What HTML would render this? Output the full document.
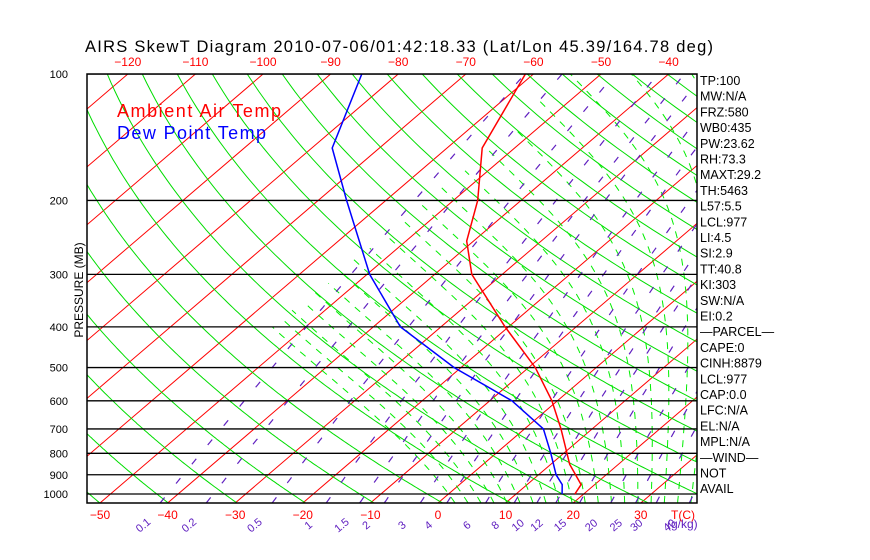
<!DOCTYPE html>
<html><head><meta charset="utf-8"><style>
body{margin:0;background:#fff;}
svg{display:block;font-family:"Liberation Sans",sans-serif;}
</style></head><body>
<svg id="chart" width="870" height="560" viewBox="0 0 870 560">
<defs><clipPath id="clip"><rect x="87" y="74" width="610" height="429"/></clipPath></defs>
<text x="85" y="52" font-size="16.5" fill="#000" textLength="628" lengthAdjust="spacing">AIRS SkewT Diagram 2010-07-06/01:42:18.33 (Lat/Lon 45.39/164.78 deg)</text>
<g id="grid" clip-path="url(#clip)"></g>
<g id="prof" clip-path="url(#clip)"></g>
<g id="labels"></g>
<text x="117" y="117" font-size="18" fill="#f00" textLength="164" lengthAdjust="spacing">Ambient Air Temp</text>
<text x="117" y="139" font-size="18" fill="#00f" textLength="149" lengthAdjust="spacing">Dew Point Temp</text>
<text transform="translate(83,290) rotate(-90)" text-anchor="middle" font-size="12" fill="#000">PRESSURE (MB)</text>
<rect x="87" y="74" width="610" height="429" fill="none" stroke="#000" stroke-width="1.5"/>
</svg>
<script>
const pressureLevels=[100,200,300,400,500,600,700,800,900,1000];
const bottomTempTicks=[-50,-40,-30,-20,-10,0,10,20,30];
const topTempTicks=[-120,-110,-100,-90,-80,-70,-60,-50,-40];
const mixRatios=[0.1,0.2,0.5,1,1.5,2,3,4,6,8,10,12,15,20,25,30,40];
const profP=[100,150,200,250,300,400,500,600,700,850,950,1000];
const tempC=[-61.2,-54.8,-46.4,-41,-34.5,-20.5,-9,-0.8,5.4,12.8,18,18.7];
const dewP=[100,150,200,300,400,500,600,700,800,900,950,1000];
const dewC=[-85.4,-77,-65.8,-49.6,-36,-21,-6.7,2.8,8.1,12.6,15.2,16.8];
const statLabels=["TP:100","MW:N/A","FRZ:580","WB0:435","PW:23.62","RH:73.3","MAXT:29.2","TH:5463","L57:5.5","LCL:977","LI:4.5","SI:2.9","TT:40.8","KI:303","SW:N/A","EI:0.2","\u2014PARCEL\u2014","CAPE:0","CINH:8879","LCL:977","CAP:0.0","LFC:N/A","EL:N/A","MPL:N/A","\u2014WIND\u2014","NOT","AVAIL"];

const NS="http://www.w3.org/2000/svg";
function yOf(p){return 494+182.4*Math.log(p/1000);}
function xOf(T,p){return 438+6.76*T+(503-yOf(p))*1.168;}
function mk(tag,attrs,parent){const e=document.createElementNS(NS,tag);for(const k in attrs)e.setAttribute(k,attrs[k]);parent.appendChild(e);return e;}
function fmt(v){return v<0?'\u2212'+(-v):String(v);}
const grid=document.getElementById('grid'),prof=document.getElementById('prof'),lab=document.getElementById('labels');
const pBot=1050,pTop=100;
function pts(fn){let s=[];for(let p=pBot;p>=pTop-1;p-=5){const T=fn(p);s.push(xOf(T,p).toFixed(1)+','+yOf(p).toFixed(1));}return s.join(' ');}
for(let T=-160;T<=50;T+=10){
 const l=mk('line',{x1:xOf(T,pBot),y1:yOf(pBot),x2:xOf(T,pTop),y2:yOf(pTop),stroke:'#f00','stroke-width':1},grid);
 
 
}
for(let th=190;th<=480;th+=10){
 const l=mk('polyline',{points:pts(p=>th*Math.pow(p/1000,0.286)-273.15),fill:'none',stroke:'#0d0','stroke-width':1},grid);
 
 
}
function es(T){return 6.112*Math.exp(17.67*T/(T+243.5));}
function step(T,p,dp){const Tc=T-273.15;const rs=0.622*es(Tc)/(p-es(Tc));const Lv=2.5e6,Rd=287,cp=1005;
  const dTdp=(Rd*T+Lv*rs)/(p*(cp+Lv*Lv*rs*0.622/(Rd*T*T)));return T+dTdp*dp;}
for(let tw=0;tw<=42;tw+=2){
 let T=tw+273.15,s=[];
 for(let p=1000;p<1050;p+=5){T=step(T,p,5);}
 for(let p=1050;p>=pTop;p-=5){if(T-273.15<-55)break;s.push(xOf(T-273.15,p).toFixed(1)+','+yOf(p).toFixed(1));T=step(T,p,-5);}
 const l=mk('polyline',{points:s.join(' '),fill:'none',stroke:'#0e0','stroke-width':1,'stroke-dasharray':'7,7'},grid);
 
 
}
function tdOfW(w,p){const e=w*p/(622+w);const a=Math.log(e/6.112);return 243.5*a/(17.67-a);}
mixRatios.forEach(w=>{
 const l=mk('polyline',{points:pts(p=>tdOfW(w,p)),fill:'none',stroke:'#6020c0','stroke-width':1.2,'stroke-dasharray':'7,18'},grid);
 
 
 const x=xOf(tdOfW(w,1000),1000)-22;
 const t=mk('text',{x:0,y:0,transform:`translate(${x.toFixed(1)},528) rotate(-40)`,'font-size':11,fill:'#6020c0','text-anchor':'middle'},lab);
 t.textContent=w;
 
 
});
{const t=mk('text',{x:667,y:528,'font-size':12,fill:'#6020c0'},lab);t.textContent='(g/kg)';
 
 }
pressureLevels.forEach(p=>{
 const y=yOf(p);
 const l=mk('line',{x1:87,x2:697,y1:y,y2:y,stroke:'#000','stroke-width':1.3},grid);
 
 
 const t=mk('text',{x:68,y:y+4,'font-size':11,'text-anchor':'end',fill:'#000'},lab);
 t.textContent=p;
 
 
});
bottomTempTicks.forEach(T=>{
 const t=mk('text',{x:xOf(T,1000)-10.5,y:519,'font-size':12,'text-anchor':'middle',fill:'#f00'},lab);
 t.textContent=fmt(T);
 
 
});
{const t=mk('text',{x:683,y:519,'font-size':12,'text-anchor':'middle',fill:'#f00'},lab);t.textContent='T(C)';
 
 }
topTempTicks.forEach(T=>{
 const t=mk('text',{x:438+6.76*T+501,y:66,'font-size':12,'text-anchor':'middle',fill:'#f00'},lab);
 t.textContent=fmt(T);
 
 
});
function prLine(P,V,color,name){
 const s=P.map((p,i)=>xOf(V[i],p).toFixed(1)+','+yOf(p).toFixed(1)).join(' ');
 const l=mk('polyline',{points:s,fill:'none',stroke:color,'stroke-width':1.5},prof);
 
 
}
prLine(profP,tempC,'#f00','temperature-profile');
prLine(dewP,dewC,'#00f','dewpoint-profile');
statLabels.forEach((s,i)=>{
 const t=mk('text',{x:700,y:85+i*15.7,'font-size':12.5,fill:'#000'},lab);
 t.textContent=s;
 
 
});
</script>
</body></html>
